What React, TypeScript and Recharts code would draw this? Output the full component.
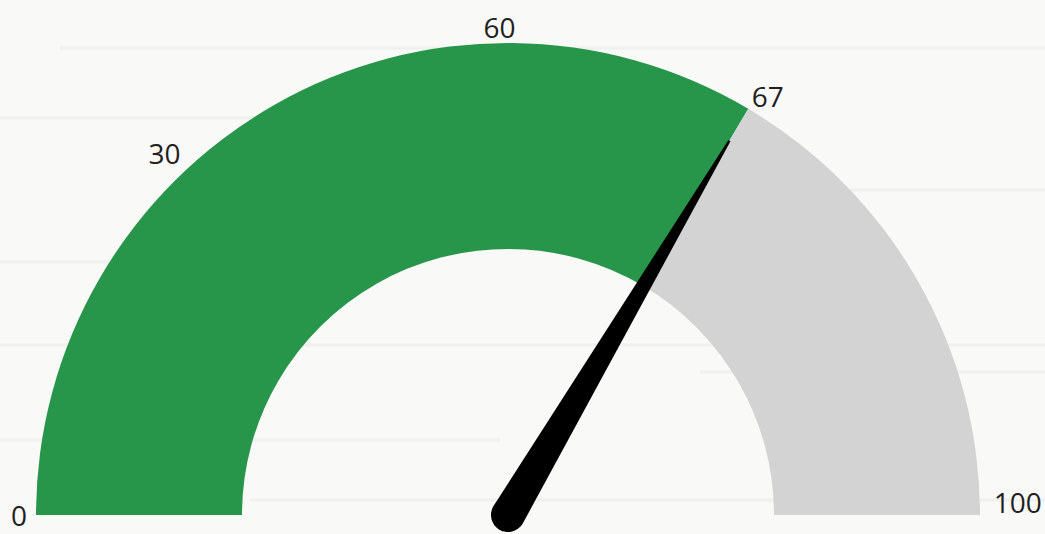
import { Pie, PieChart, Cell } from 'recharts';

const GAUGE_VALUE = 67;
const GAUGE_MAX = 100;

const segments = [
  { name: 'value', value: GAUGE_VALUE },
  { name: 'rest', value: GAUGE_MAX - GAUGE_VALUE },
];
const segmentColors = ['#28964a', '#d3d3d3'];

const tickLabels = ['0', '30', '60', '67', '100'];

const WIDTH = 1045;
const HEIGHT = 534;
const CX = 508;
const CY = 515;
const INNER = 266;
const OUTER = 472;

// label placement around the arc (degrees, radius) — matches the original picture
const LABEL_LAYOUT = [
  { angle: 180, r: 489 },
  { angle: 133.5, r: 499 },
  { angle: 91, r: 488 },
  { angle: 58.2, r: 493 },
  { angle: 1.5, r: 510 },
];

// faint brick seams in the background
const SEAMS = [
  { y: 48, x1: 60, x2: 1045 },
  { y: 118, x1: 0, x2: 380 },
  { y: 190, x1: 850, x2: 1045 },
  { y: 262, x1: 0, x2: 300 },
  { y: 345, x1: 0, x2: 1045 },
  { y: 372, x1: 700, x2: 1045 },
  { y: 440, x1: 0, x2: 500 },
  { y: 500, x1: 250, x2: 1045 },
];

const RAD = Math.PI / 180;

function Needle() {
  const angle = 180 - (GAUGE_VALUE / GAUGE_MAX) * 180;
  const len = 435;
  const base = 17;
  const cos = Math.cos(angle * RAD);
  const sin = Math.sin(angle * RAD);
  const tipX = CX + len * cos;
  const tipY = CY - len * sin;
  // perpendicular
  const px = sin;
  const py = cos;
  const lx = CX - base * px;
  const ly = CY - base * py;
  const rx = CX + base * px;
  const ry = CY + base * py;
  const d = `M ${lx} ${ly} L ${tipX - 1.2 * px} ${tipY - 1.2 * py} L ${tipX + 1.2 * px} ${tipY + 1.2 * py} L ${rx} ${ry} A ${base} ${base} 0 0 1 ${lx} ${ly} Z`;
  return <path d={d} fill="#000" />;
}

function Labels() {
  return (
    <g>
      {tickLabels.map((t, i) => {
        const { angle, r } = LABEL_LAYOUT[i];
        const x = CX + r * Math.cos(angle * RAD);
        const y = CY - r * Math.sin(angle * RAD);
        return (
          <text
            key={t}
            x={x}
            y={y}
            textAnchor="middle"
            dominantBaseline="central"
            fontSize={28}
            fontFamily="'Open Sans', sans-serif"
            fill="#231f20"
          >
            {t}
          </text>
        );
      })}
    </g>
  );
}

function Background() {
  return (
    <svg width={WIDTH} height={HEIGHT} style={{ position: 'absolute', left: 0, top: 0 }}>
      <rect x={0} y={0} width={WIDTH} height={HEIGHT} fill="#f9f9f8" />
      {SEAMS.map((s, i) => (
        <line key={i} x1={s.x1} x2={s.x2} y1={s.y} y2={s.y} stroke="#e9e9e7" strokeWidth={3} opacity={0.55} />
      ))}
    </svg>
  );
}

export default function App() {
  return (
    <div style={{ position: 'absolute', left: 0, top: 0, width: WIDTH, height: HEIGHT }}>
      <Background />
      <div style={{ position: 'absolute', left: 0, top: 0 }}>
        <PieChart width={WIDTH} height={HEIGHT} margin={{ top: 0, right: 0, bottom: 0, left: 0 }}>
          <Pie
            data={segments}
            dataKey="value"
            cx={CX}
            cy={CY}
            startAngle={180}
            endAngle={0}
            innerRadius={INNER}
            outerRadius={OUTER}
            stroke="none"
            isAnimationActive={false}
          >
            {segments.map((s, i) => (
              <Cell key={s.name} fill={segmentColors[i]} />
            ))}
          </Pie>
        </PieChart>
      </div>
      <svg width={WIDTH} height={HEIGHT} style={{ position: 'absolute', left: 0, top: 0, pointerEvents: 'none' }}>
        <Labels />
        <Needle />
      </svg>
    </div>
  );
}
